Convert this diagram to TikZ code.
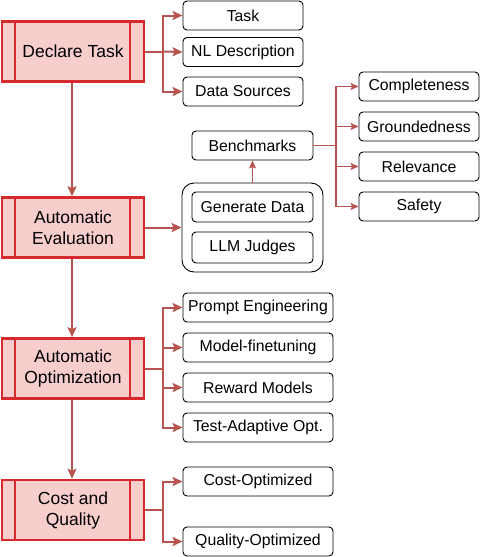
\documentclass[tikz,border=0pt]{standalone}
\usepackage{fontspec}
\setmainfont{Liberation Sans}
\usetikzlibrary{arrows.meta}
\definecolor{mainred}{RGB}{214,42,46}
\definecolor{mainfill}{RGB}{248,206,204}
\definecolor{linkred}{RGB}{184,84,80}
\tikzset{
  mainbox/.style={draw=mainred, fill=mainfill, line width=2.6pt, minimum width=142pt, minimum height=60pt,
    inner sep=0pt, align=center, font=\fontsize{17.5}{21}\selectfont,
    path picture={\draw[mainred, line width=2.6pt]
      ([xshift=13pt]path picture bounding box.north west) -- ([xshift=13pt]path picture bounding box.south west)
      ([xshift=-14pt]path picture bounding box.north east) -- ([xshift=-14pt]path picture bounding box.south east);}},
  subbox/.style={draw=black, fill=white, rounded corners=4pt, line width=0.9pt, minimum width=120pt,
    minimum height=29pt, inner sep=0pt, font=\fontsize{15.8}{18}\selectfont},
  widebox/.style={subbox, minimum width=150pt},
  contbox/.style={draw=black, fill=white, rounded corners=12pt, line width=0.9pt, minimum width=141pt, minimum height=89pt, inner sep=0pt},
  thick arrow/.style={draw=linkred, line width=2pt, -{Stealth[length=10pt,width=9pt,inset=2pt]}},
  thick line/.style={draw=linkred, line width=2pt},
  thin arrow/.style={draw=linkred, line width=1.1pt, -{Stealth[length=8pt,width=7pt,inset=1.5pt]}},
  thin line/.style={draw=linkred, line width=1.1pt},
}
\begin{document}
\begin{tikzpicture}[x=1pt,y=-1pt]
\useasboundingbox (0,0) rectangle (480,557);
% main boxes
\node[mainbox] (decl) at (73,51.5) {Declare Task};
\node[mainbox] (eval) at (73,227.5) {Automatic\\Evaluation};
\node[mainbox] (opt) at (73,368.5) {Automatic\\Optimization};
\node[mainbox] (cost) at (73,510) {Cost and\\Quality};
% vertical arrows
\draw[thick arrow] (decl.south -| 72,0) -- (eval.north -| 72,0);
\draw[thick arrow] (eval.south -| 72,0) -- (opt.north -| 72,0);
\draw[thick arrow] (opt.south -| 72,0) -- (cost.north -| 72,0);
% declare task children
\node[subbox] (task) at (243,15.5) {Task};
\node[subbox] (nl) at (243,52) {NL Description};
\node[subbox] (ds) at (243,91.5) {Data Sources};
\coordinate (j1) at (163,51.5);
\draw[thick line] (decl.east) -- (j1);
\draw[thick arrow] (j1) |- (task.west);
\draw[thick arrow] (j1) -- (nl.west);
\draw[thick arrow] (j1) |- (ds.west);
% evaluation
\node[contbox] (cont) at (252.5,227.5) {};
\node[subbox, minimum width=121pt, minimum height=30pt] (gen) at (252.5,207) {Generate Data};
\node[subbox, minimum width=121pt, minimum height=31pt] (judge) at (252.5,247.5) {LLM Judges};
\node[subbox, minimum width=121pt] (bench) at (252.5,145.5) {Benchmarks};
\draw[thick arrow] (eval.east) -- (cont.west);
\draw[thin arrow] (cont.north) -- (bench.south);
\node[subbox] (comp) at (419,86.5) {Completeness};
\node[subbox] (ground) at (419,126.5) {Groundedness};
\node[subbox] (rel) at (419,166.5) {Relevance};
\node[subbox] (safe) at (419,206.5) {Safety};
\coordinate (j2) at (336,145.5);
\draw[thin line] (bench.east) -- (j2);
\draw[thin arrow] (j2) |- (comp.west);
\draw[thin arrow] (j2) |- (ground.west);
\draw[thin arrow] (j2) |- (rel.west);
\draw[thin arrow] (j2) |- (safe.west);
% optimization
\node[widebox] (pe) at (258,307.5) {Prompt Engineering};
\node[widebox] (mf) at (258,347.5) {Model-finetuning};
\node[widebox] (rm) at (258,387.5) {Reward Models};
\node[widebox] (ta) at (258,427.5) {Test-Adaptive Opt.};
\coordinate (j3) at (163,368.5);
\draw[thick line] (opt.east) -- (j3);
\draw[thick arrow] (j3) |- (pe.west);
\draw[thick arrow] (j3) |- (mf.west);
\draw[thick arrow] (j3) |- (rm.west);
\draw[thick arrow] (j3) |- (ta.west);
% cost and quality
\node[widebox] (co) at (258,481.5) {Cost-Optimized};
\node[widebox] (qo) at (258,541.5) {Quality-Optimized};
\coordinate (j4) at (163,510);
\draw[thick line] (cost.east) -- (j4);
\draw[thick arrow] (j4) |- (co.west);
\draw[thick arrow] (j4) |- (qo.west);
\end{tikzpicture}
\end{document}
